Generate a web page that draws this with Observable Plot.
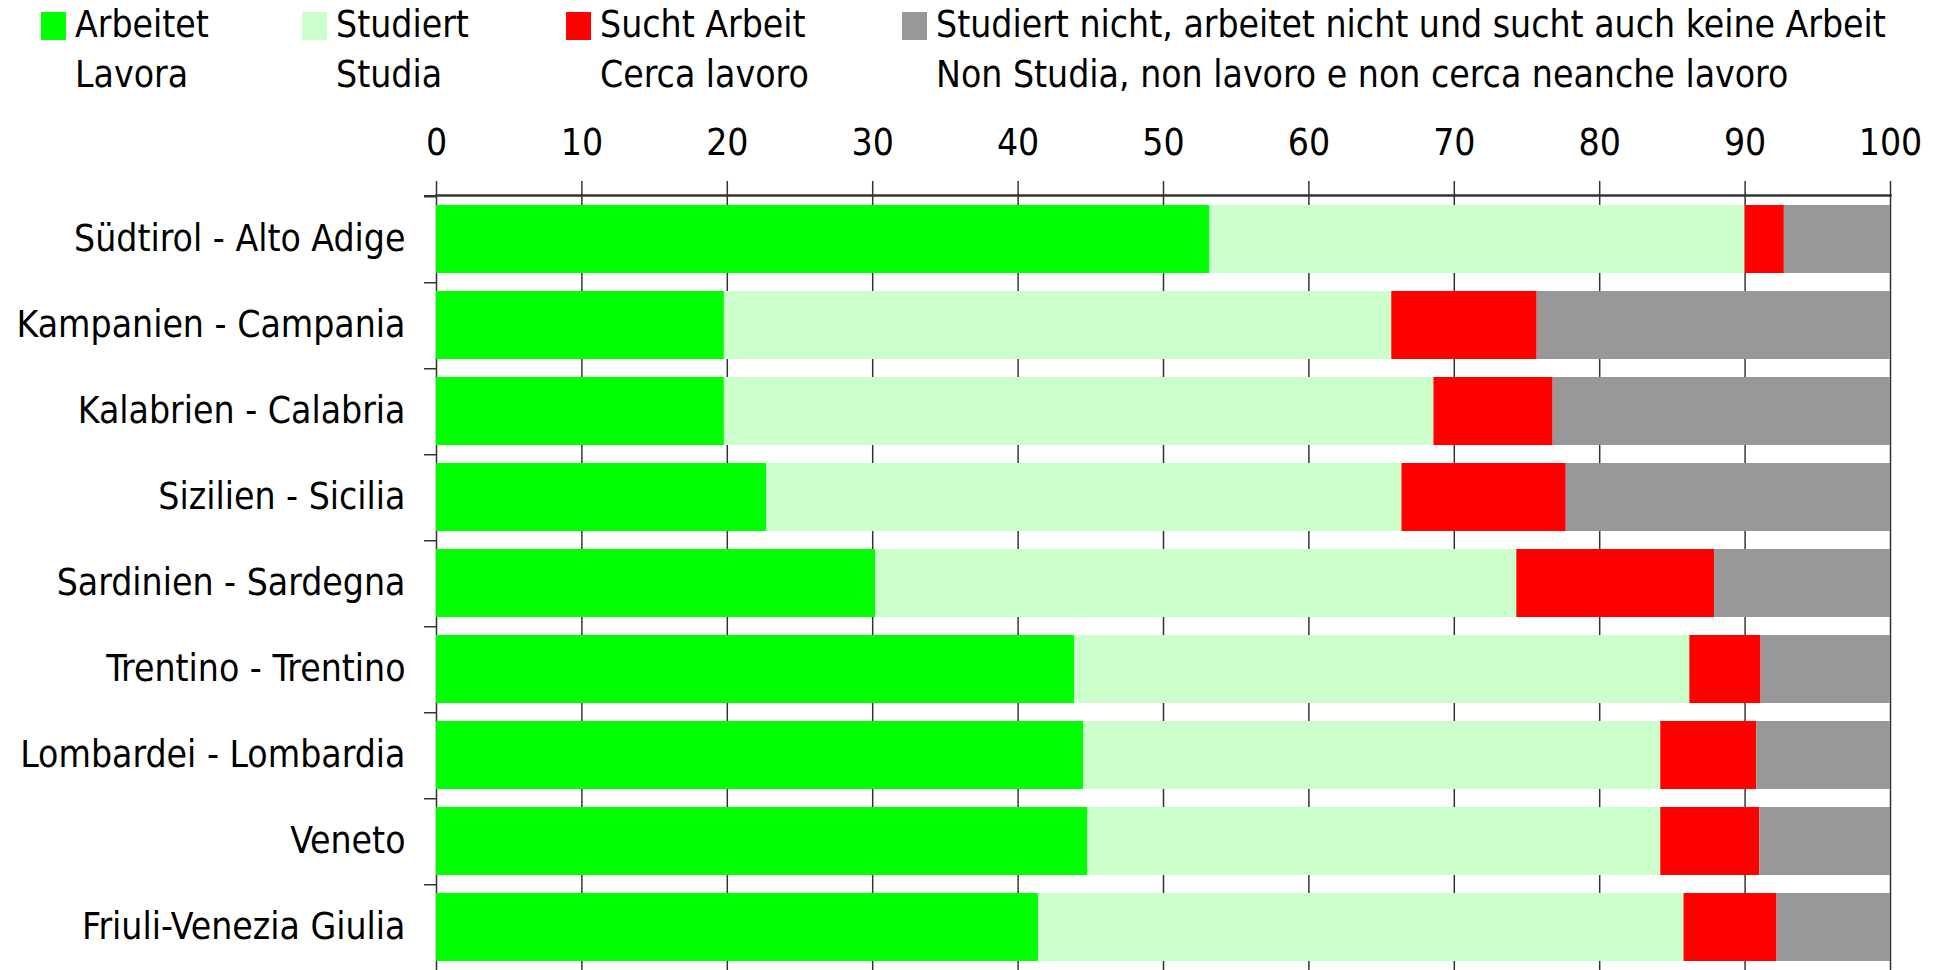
<!DOCTYPE html>
<html>
<head>
<meta charset="utf-8">
<script src="https://cdn.jsdelivr.net/npm/d3@7"></script>
<script src="https://cdn.jsdelivr.net/npm/@observablehq/plot@0.6"></script>
<style>
  html, body { margin: 0; padding: 0; background: #fff; overflow: hidden; }
  body { width: 1943px; height: 970px; font-family: "Liberation Sans Narrow", "DejaVu Sans Condensed", sans-serif; color: #000; }
  #legend { position: relative; height: 100px; display: flex; padding-left: 41px; box-sizing: border-box; }
  .item { display: flex; align-items: flex-start; }
  .sw { width: 25px; height: 28px; margin-top: 12px; margin-right: 9px; flex: none; }
  .txt { font-size: 37px; line-height: 50px; white-space: nowrap; }
</style>
</head>
<body>
<div id="legend"></div>
<div id="chart"></div>
<script>
const regions = ["Südtirol - Alto Adige", "Kampanien - Campania", "Kalabrien - Calabria", "Sizilien - Sicilia", "Sardinien - Sardegna", "Trentino - Trentino", "Lombardei - Lombardia", "Veneto", "Friuli-Venezia Giulia"];
const seriesDe = ["Arbeitet", "Studiert", "Sucht Arbeit", "Studiert nicht, arbeitet nicht und sucht auch keine Arbeit"];
const seriesIt = ["Lavora", "Studia", "Cerca lavoro", "Non Studia, non lavoro e non cerca neanche lavoro"];
const colors = ["#00ff00", "#ccffcc", "#ff0000", "#989898"];
const arbeitet = [53.2, 19.8, 19.8, 22.7, 30.2, 43.9, 44.5, 44.8, 41.4];
const studiert = [36.8, 45.9, 48.8, 43.7, 44.1, 42.3, 39.7, 39.4, 44.4];
const sucht    = [2.7, 10.0, 8.2, 11.3, 13.6, 4.9, 6.6, 6.8, 6.4];
const nicht    = [7.3, 24.3, 23.2, 22.3, 12.1, 8.9, 9.2, 9.0, 7.8];
const xTicks = [0, 10, 20, 30, 40, 50, 60, 70, 80, 90, 100];

const seriesValues = [arbeitet, studiert, sucht, nicht];
const data = [];
regions.forEach((r, i) => seriesDe.forEach((s, j) => data.push({region: r, series: s, value: seriesValues[j][i]})));

// legend
const legendWidths = [261, 264, 336, null];
const legend = document.getElementById("legend");
seriesDe.forEach((s, j) => {
  const it = document.createElement("div");
  it.className = "item";
  if (legendWidths[j]) it.style.width = legendWidths[j] + "px";
  const sw = document.createElement("div");
  sw.className = "sw"; sw.style.background = colors[j];
  const tx = document.createElement("div");
  tx.className = "txt";
  tx.innerHTML = s + "<br>" + seriesIt[j];
  it.appendChild(sw); it.appendChild(tx);
  legend.appendChild(it);
});

const H = 870, MT = 95, MB = 0;
const pIn = 0.214, pOut = 0.087;
const step = (H - MT - MB) / (regions.length - pIn + 2 * pOut);
const half = step / 2;

const plot = Plot.plot({
  width: 1943, height: H,
  marginTop: MT, marginBottom: MB, marginLeft: 436, marginRight: 53,
  style: {fontFamily: '"Liberation Sans Narrow", "DejaVu Sans Condensed", sans-serif', fontSize: "37px", color: "#000", background: "#fff", overflow: "visible"},
  x: {domain: [0, 100], axis: null},
  y: {domain: regions, paddingInner: pIn, paddingOuter: pOut, axis: null},
  color: {domain: seriesDe, range: colors},
  marks: [
    Plot.gridX(xTicks, {stroke: "#333", strokeOpacity: 1, strokeWidth: 1.5}),
    Plot.barX(data, Plot.stackX({x: "value", y: "region", fill: "series", order: seriesDe})),
    Plot.frame({anchor: "top", stroke: "#333", strokeWidth: 2.5}),
    Plot.axisX({ticks: xTicks, anchor: "top", label: null, tickSize: 15, tickPadding: 26, stroke: "#333", strokeWidth: 1.5, fontSize: 37}),
    Plot.axisY({anchor: "left", label: null, tickSize: 0, tickPadding: 31, fontSize: 37}),
    Plot.axisY({anchor: "left", label: null, tickSize: 12, tickFormat: () => "", dy: half, stroke: "#333", strokeWidth: 1.5}),
    Plot.axisY([regions[0]], {anchor: "left", label: null, tickSize: 12, tickFormat: () => "", dy: -half, stroke: "#333", strokeWidth: 2.5})
  ]
});
document.getElementById("chart").appendChild(plot);
</script>
</body>
</html>
